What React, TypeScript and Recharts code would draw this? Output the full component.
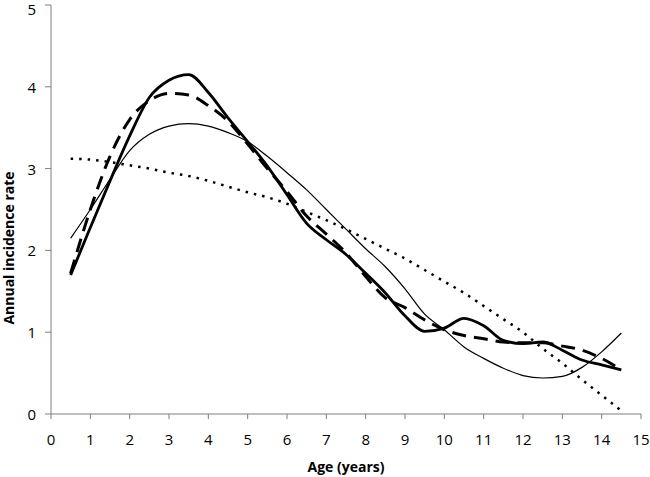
import { LineChart, Line, XAxis, YAxis, Label } from "recharts"

const ages = [0.5, 1, 1.5, 2, 2.5, 3, 3.5, 4, 4.5, 5, 5.5, 6, 6.5, 7, 7.5, 8, 8.5, 9, 9.5, 10, 10.5, 11, 11.5, 12, 12.5, 13, 13.5, 14, 14.5]

const thickSolid = [1.7, 2.28, 2.85, 3.4, 3.87, 4.08, 4.15, 3.93, 3.62, 3.33, 3.03, 2.68, 2.33, 2.13, 1.95, 1.72, 1.48, 1.2, 1.01, 1.05, 1.17, 1.08, 0.9, 0.86, 0.88, 0.78, 0.66, 0.6, 0.54]
const thickDashed = [1.72, 2.5, 3.15, 3.6, 3.83, 3.92, 3.9, 3.77, 3.58, 3.3, 3.0, 2.72, 2.42, 2.2, 1.97, 1.68, 1.42, 1.3, 1.15, 1.03, 0.96, 0.92, 0.88, 0.87, 0.87, 0.83, 0.78, 0.68, 0.54]
const thinSolid = [2.15, 2.5, 2.87, 3.22, 3.42, 3.52, 3.55, 3.52, 3.44, 3.33, 3.15, 2.95, 2.74, 2.5, 2.26, 2.02, 1.8, 1.53, 1.22, 1.03, 0.82, 0.68, 0.56, 0.47, 0.44, 0.46, 0.57, 0.76, 0.99]
const dotted = [3.12, 3.11, 3.08, 3.04, 3.0, 2.95, 2.91, 2.85, 2.78, 2.71, 2.65, 2.57, 2.47, 2.37, 2.26, 2.14, 2.02, 1.9, 1.76, 1.62, 1.48, 1.32, 1.16, 1.0, 0.8, 0.62, 0.42, 0.23, 0.04]

const xTicks = [0, 1, 2, 3, 4, 5, 6, 7, 8, 9, 10, 11, 12, 13, 14, 15]
const yTicks = [0, 1, 2, 3, 4, 5]

const data = ages.map((age, i) => ({
  age,
  thickSolid: thickSolid[i],
  thickDashed: thickDashed[i],
  thinSolid: thinSolid[i],
  dotted: dotted[i],
}))

const axisColor = "#7f7f7f"
const font = "'Open Sans', sans-serif"

// y-axis title sits a bit below the plot's middle in the original
const YTitle = () => (
  <text
    x={8}
    y={248}
    transform="rotate(-90 8 248)"
    textAnchor="middle"
    dominantBaseline="central"
    style={{ fontWeight: "bold", fontSize: 14, fill: "#000", fontFamily: font }}
  >
    Annual incidence rate
  </text>
)

const YTick = (props: any) => {
  const { x, y, payload } = props
  // keep the top "5" inside the frame
  const yy = Math.max(y, 9)
  return (
    <text x={x} y={yy} textAnchor="end" dominantBaseline="central" style={{ fontSize: 15, fill: "#000", fontFamily: font }}>
      {payload.value}
    </text>
  )
}

export default function App() {
  return (
    <div style={{ position: "absolute", left: 0, top: 0, background: "#fff" }}>
      <LineChart width={650} height={477} data={data} margin={{ top: 5, right: 9, bottom: 0, left: 0 }}>
        <XAxis
          dataKey="age"
          type="number"
          domain={[0, 15]}
          ticks={xTicks}
          interval={0}
          height={63}
          stroke={axisColor}
          tickSize={5}
          tickMargin={15}
          tick={{ fill: "#000", fontSize: 15, fontFamily: font }}
        >
          <Label value="Age (years)" position="insideBottom" offset={5} style={{ fontWeight: "bold", fontSize: 14, fill: "#000", fontFamily: font }} />
        </XAxis>
        <YAxis
          type="number"
          domain={[0, 5]}
          ticks={yTicks}
          interval={0}
          width={51}
          stroke={axisColor}
          tickSize={6}
          tickMargin={9}
          tick={<YTick />}
        >
          <Label content={<YTitle />} />
        </YAxis>
        <Line dataKey="dotted" type="monotone" stroke="#000" strokeWidth={2.5} strokeDasharray="2.5 6" dot={false} isAnimationActive={false} />
        <Line dataKey="thinSolid" type="monotone" stroke="#000" strokeWidth={1.2} dot={false} isAnimationActive={false} />
        <Line dataKey="thickDashed" type="monotone" stroke="#000" strokeWidth={3} strokeDasharray="14 8" dot={false} isAnimationActive={false} />
        <Line dataKey="thickSolid" type="monotone" stroke="#000" strokeWidth={2.8} dot={false} isAnimationActive={false} />
      </LineChart>
    </div>
  )
}
